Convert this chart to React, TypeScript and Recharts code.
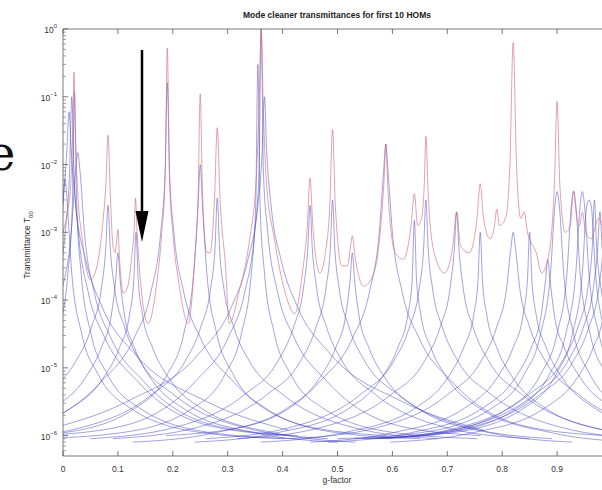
import React from "react";
import { LineChart, Line, XAxis, YAxis } from "recharts";

const FONT = "'Liberation Sans', Arial, sans-serif";

// x ticks (g-factor) and log y ticks
const X_TICKS = [0, 0.1, 0.2, 0.3, 0.4, 0.5, 0.6, 0.7, 0.8, 0.9, 1];
const Y_MAJOR = [1e-6, 1e-5, 1e-4, 1e-3, 1e-2, 1e-1, 1];
const Y_MINOR: number[] = [];
Y_MAJOR.slice(0, -1).forEach((d) => {
  for (let m = 2; m <= 9; m++) Y_MINOR.push(d * m);
});
Y_MINOR.push(6e-7, 7e-7, 8e-7, 9e-7);
const Y_TICKS = [...Y_MINOR, ...Y_MAJOR].sort((a, b) => a - b);

// red curve
const RED_G = [
  0, 0.008, 0.014, 0.018, 0.02, 0.022, 0.026, 0.035, 0.05, 0.062, 0.072, 0.078,
  0.082, 0.086, 0.091, 0.095, 0.098, 0.1, 0.103, 0.11, 0.118, 0.126, 0.13, 0.132,
  0.135, 0.142, 0.155, 0.17, 0.18, 0.186, 0.19, 0.194, 0.2, 0.212, 0.228, 0.24,
  0.246, 0.25, 0.254, 0.262, 0.268, 0.276, 0.281, 0.286, 0.296, 0.303, 0.32, 0.34,
  0.352, 0.357, 0.361, 0.365, 0.37, 0.385, 0.405, 0.422, 0.436, 0.445, 0.45, 0.455,
  0.468, 0.478, 0.486, 0.491, 0.496, 0.508, 0.518, 0.524, 0.527, 0.531, 0.548,
  0.566, 0.58, 0.585, 0.588, 0.592, 0.605, 0.62, 0.634, 0.64, 0.646, 0.653, 0.658,
  0.661, 0.665, 0.676, 0.695, 0.71, 0.717, 0.724, 0.74, 0.754, 0.76, 0.766, 0.778,
  0.786, 0.79, 0.795, 0.806, 0.814, 0.82, 0.826, 0.834, 0.84, 0.846, 0.862, 0.872,
  0.883, 0.89, 0.895, 0.9, 0.905, 0.915, 0.924, 0.93, 0.936, 0.941, 0.946, 0.952,
  0.962, 0.975, 0.99, 1,
];
const RED_T = [
  1e-3, 2e-3, 5e-3, 0.04, 0.23, 0.04, 5e-3, 8e-4, 2e-4, 3.2e-4, 1.26e-3, 5e-3,
  0.027, 4e-3, 6.3e-4, 5e-4, 8e-4, 1.1e-3, 4e-4, 1.26e-4, 1.6e-4, 5e-4, 1.26e-3, 3.2e-3,
  1e-3, 1.6e-4, 4.5e-5, 1.6e-4, 1e-3, 6.3e-3, 0.52, 6.3e-3, 1e-3, 1.6e-4, 4.5e-5, 4e-4,
  3.2e-3, 0.11, 4e-3, 5e-4, 5e-4, 3.2e-3, 0.035, 3.2e-3, 3.2e-4, 4.5e-5, 1.26e-4, 8e-4,
  6.3e-3, 0.063, 1.0, 0.063, 6.3e-3, 8e-4, 1.26e-4, 6.3e-5, 2.5e-4, 1.26e-3, 6.3e-3, 1.26e-3,
  2.5e-4, 5e-4, 2.5e-3, 0.033, 2.5e-3, 3.2e-4, 3.2e-4, 6.3e-4, 8.9e-4, 5e-4, 1.6e-4,
  2.5e-4, 1.6e-3, 6.3e-3, 0.02, 4e-3, 5e-4, 4e-4, 1.26e-3, 3.7e-3, 1.26e-3, 1.6e-3, 5e-3,
  0.026, 4e-3, 5e-4, 2.5e-4, 6.3e-4, 2e-3, 6.3e-4, 5e-4, 1.6e-3, 5.2e-3, 1.6e-3, 8e-4,
  1.26e-3, 2.2e-3, 1.26e-3, 1.6e-3, 0.01, 0.63, 0.01, 1.6e-3, 2e-3, 1e-3, 5e-4, 2.5e-4,
  4e-4, 1e-3, 5e-3, 0.085, 5e-3, 1e-3, 1.26e-3, 4.1e-3, 1.6e-3, 1.26e-3, 2e-3, 1e-3,
  8e-4, 1.6e-3, 1e-3, 1e-3,
];

// blue HOM curves: peak position, drawn peak height and the tail they fall along
const TAIL_DIST = [0.004, 0.012, 0.03, 0.06, 0.12, 0.25, 0.4];
const TAIL_WIDE = [1.6e-2, 2.5e-3, 4e-4, 8e-5, 1.6e-5, 3.2e-6, 1.2e-6];
const TAIL_STD = [8e-3, 1e-3, 1.3e-4, 2.8e-5, 6.3e-6, 1.4e-6, 1e-6];
const TAIL_NARROW = [2.5e-3, 2.5e-4, 3.2e-5, 8e-6, 2.5e-6, 1.1e-6, 9e-7];
const TAIL_MID = [6e-4, 1.5e-4, 4e-5, 1.2e-5, 4e-6, 1.3e-6, 9e-7];
const TAIL_LOW = [2e-4, 6e-5, 2e-5, 7e-6, 2.5e-6, 1.1e-6, 8e-7];

const BLUE_G = [
  0.004, 0.011, 0.016, 0.021, 0.027, 0.082, 0.1, 0.133, 0.19, 0.25, 0.281, 0.355,
  0.361, 0.367, 0.45, 0.491, 0.527, 0.588, 0.64, 0.661, 0.717, 0.76, 0.82, 0.85,
  0.883, 0.9, 0.93, 0.946, 0.958, 0.968, 0.978, 0.988, 0.996,
];
const BLUE_PEAK = [
  6e-3, 0.06, 0.1, 0.12, 0.015, 2.5e-3, 5e-4, 1e-3, 0.16, 0.01, 3.2e-3, 0.3,
  1.0, 0.1, 2.5e-3, 3e-3, 5e-4, 0.02, 1.5e-3, 3e-3, 2e-3, 1e-3, 1e-3, 1e-3,
  4e-4, 4e-3, 4e-3, 4e-3, 3e-3, 3e-3, 2e-3, 2e-3, 1e-3,
];
const BLUE_TAIL = [
  TAIL_NARROW, TAIL_WIDE, TAIL_STD, TAIL_NARROW, TAIL_STD, TAIL_MID, TAIL_LOW, TAIL_LOW,
  TAIL_STD, TAIL_NARROW, TAIL_MID, TAIL_NARROW, TAIL_STD, TAIL_WIDE, TAIL_MID, TAIL_MID,
  TAIL_LOW, TAIL_STD, TAIL_LOW, TAIL_MID, TAIL_MID, TAIL_LOW, TAIL_MID, TAIL_LOW,
  TAIL_LOW, TAIL_NARROW, TAIL_NARROW, TAIL_NARROW, TAIL_NARROW, TAIL_MID, TAIL_MID, TAIL_MID,
  TAIL_LOW,
];

const redData = RED_G.map((g, i) => ({ g, t: RED_T[i] }));
const blueData = BLUE_G.map((c, k) => {
  const tail = BLUE_TAIL[k];
  const left = TAIL_DIST.map((d, i) => ({ g: c - d, t: tail[i] })).reverse();
  const right = TAIL_DIST.map((d, i) => ({ g: c + d, t: tail[i] }));
  return [...left, { g: c, t: BLUE_PEAK[k] }, ...right];
});

const XTickBottom = (props: any) => {
  const { x, y, payload } = props;
  return (
    <g>
      <line x1={x} y1={y} x2={x} y2={y - 5} stroke="#555" strokeWidth={0.8} />
      {payload.value < 1 && (
        <text x={x} y={y + 16} textAnchor="middle" fontSize={8.5} fill="#333" fontFamily={FONT}>
          {String(payload.value)}
        </text>
      )}
    </g>
  );
};

const XTickTop = (props: any) => {
  const { x, y } = props;
  return <line x1={x} y1={y} x2={x} y2={y + 5} stroke="#555" strokeWidth={0.8} />;
};

const YTick = (props: any) => {
  const { x, y, payload } = props;
  const v = payload.value as number;
  const exp = Math.round(Math.log10(v));
  const major = Math.abs(v - Math.pow(10, exp)) < 1e-12 * Math.pow(10, exp) + 1e-15;
  if (!major) {
    return <line x1={x} y1={y} x2={x + 3} y2={y} stroke="#777" strokeWidth={0.7} />;
  }
  return (
    <g>
      <line x1={x} y1={y} x2={x + 5} y2={y} stroke="#555" strokeWidth={0.8} />
      <text x={x - 6} y={y + 4} textAnchor="end" fontSize={8.5} fill="#333" fontFamily={FONT}>
        10
        <tspan dy={-5} fontSize={6}>
          {exp === 0 ? "0" : `\u2212${Math.abs(exp)}`}
        </tspan>
      </text>
    </g>
  );
};

const App = () => {
  return (
    <div
      style={{
        position: "absolute",
        left: 0,
        top: 0,
        width: 602,
        height: 490,
        overflow: "hidden",
        background: "#fff",
      }}
    >
      <LineChart width={620} height={490} margin={{ top: 0, right: 8, bottom: 0, left: 0 }}>
        <XAxis
          type="number"
          dataKey="g"
          domain={[0, 1]}
          ticks={X_TICKS}
          interval={0}
          allowDataOverflow
          height={34}
          tickSize={0}
          tickMargin={0}
          tickLine={false}
          axisLine={{ stroke: "#555", strokeWidth: 0.8 }}
          tick={<XTickBottom />}
        />
        <XAxis
          xAxisId="top"
          orientation="top"
          type="number"
          dataKey="g"
          domain={[0, 1]}
          ticks={X_TICKS}
          interval={0}
          allowDataOverflow
          height={29}
          tickSize={0}
          tickMargin={0}
          tickLine={false}
          axisLine={{ stroke: "#555", strokeWidth: 0.8 }}
          tick={<XTickTop />}
        />
        <YAxis
          type="number"
          scale="log"
          domain={[5e-7, 1]}
          ticks={Y_TICKS}
          interval={0}
          allowDataOverflow
          width={63}
          tickSize={0}
          tickMargin={0}
          tickLine={false}
          axisLine={{ stroke: "#555", strokeWidth: 0.8 }}
          tick={<YTick />}
        />
        {blueData.map((d, i) => (
          <Line
            key={`blue-${i}`}
            data={d}
            dataKey="t"
            type="monotone"
            stroke="#3c3cc0"
            strokeOpacity={0.6}
            strokeWidth={0.8}
            dot={false}
            isAnimationActive={false}
          />
        ))}
        <Line
          data={redData}
          dataKey="t"
          type="monotone"
          stroke="#cf6a7c"
          strokeOpacity={0.7}
          strokeWidth={0.9}
          dot={false}
          isAnimationActive={false}
        />
      </LineChart>
      <svg
        width={602}
        height={490}
        style={{ position: "absolute", left: 0, top: 0, pointerEvents: "none" }}
      >
        <text x={337} y={18} textAnchor="middle" fontSize={8.5} fontWeight="bold" fill="#222" fontFamily={FONT}>
          Mode cleaner transmittances for first 10 HOMs
        </text>
        <text x={337} y={483} textAnchor="middle" fontSize={8.5} fill="#333" fontFamily={FONT}>
          g-factor
        </text>
        <text
          x={30}
          y={245}
          transform="rotate(-90 30 245)"
          textAnchor="middle"
          fontSize={8.5}
          fill="#333"
          fontFamily={FONT}
        >
          Transmittance T
          <tspan dy={3} fontSize={6}>00</tspan>
        </text>
        <text x={-13} y={170} fontSize={48} fill="#111" fontFamily="'DejaVu Serif', 'Liberation Serif', serif">
          e
        </text>
        <line x1={142} y1={50} x2={142} y2={214} stroke="#000" strokeWidth={2.5} />
        <polygon points="135.5,211 148.5,211 142,242" fill="#000" />
      </svg>
    </div>
  );
};

export default App;
